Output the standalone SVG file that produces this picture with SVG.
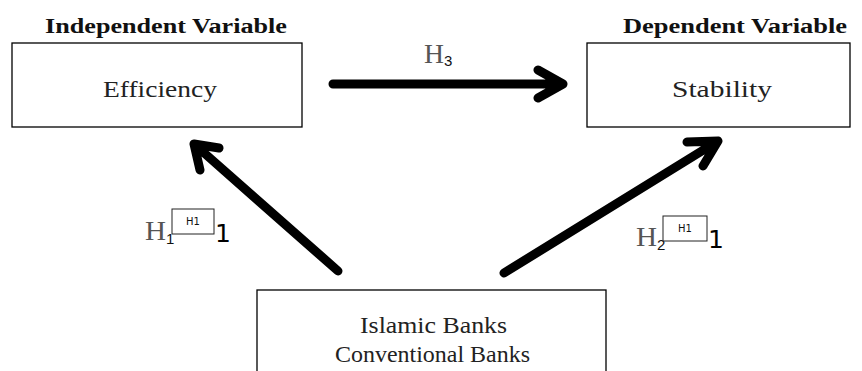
<svg xmlns="http://www.w3.org/2000/svg" width="862" height="371" viewBox="0 0 862 371">
<style>
.box{fill:#fff;stroke:#000;stroke-width:1.3}
.hd{font-family:"Liberation Serif",serif;font-weight:bold;font-size:20px;fill:#111}
.lb{font-family:"Liberation Serif",serif;font-size:23px;fill:#222}
.hh{font-family:"Liberation Serif",serif;font-size:27px;fill:#555}
.sub{font-family:"Liberation Sans",sans-serif;font-size:15px;fill:#111}
.one{font-family:"DejaVu Sans",sans-serif;font-size:25px;fill:#000}
.sb{fill:#fff;stroke:#222;stroke-width:1}
.st{font-family:"DejaVu Sans",sans-serif;font-size:10px;fill:#111}
.arr{fill:none;stroke:#000;stroke-width:9;stroke-linecap:round;stroke-linejoin:round}
</style>
<rect width="862" height="371" fill="#fff"/>
<text class="hd" x="45" y="33" textLength="242" lengthAdjust="spacingAndGlyphs">Independent Variable</text>
<text class="hd" x="623" y="33" textLength="224" lengthAdjust="spacingAndGlyphs">Dependent Variable</text>
<g id="efficiency">
<rect class="box" x="12" y="43" width="290" height="84"/>
<text class="lb" x="103" y="97" textLength="114" lengthAdjust="spacingAndGlyphs">Efficiency</text>
</g>
<g id="stability">
<rect class="box" x="587" y="43" width="263" height="84"/>
<text class="lb" x="672" y="97" textLength="100" lengthAdjust="spacingAndGlyphs">Stability</text>
</g>
<g id="banks">
<rect class="box" x="257" y="290" width="349" height="90"/>
<text class="lb" x="360" y="333" textLength="147" lengthAdjust="spacingAndGlyphs">Islamic Banks</text>
<text class="lb" x="335" y="362" textLength="195" lengthAdjust="spacingAndGlyphs">Conventional Banks</text>
</g>
<g id="connectors">
<path class="arr" d="M333,84 H563 M538,70 L563,84 L538,98"/>
<path class="arr" d="M338,271 L194,144 M219,148 L194,144 L200,170"/>
<path class="arr" d="M504,273 L718,141 M687,142 L718,141 L703,166"/>
</g>
<g id="label-h3">
<text class="hh" x="424" y="63" textLength="20" lengthAdjust="spacingAndGlyphs">H</text>
<text class="sub" x="444" y="66">3</text>
</g>
<g id="label-h1">
<text class="hh" x="145" y="240" textLength="21" lengthAdjust="spacingAndGlyphs">H</text>
<text class="sub" x="166" y="244">1</text>
<rect class="sb" x="172" y="209" width="42" height="25"/>
<text class="st" x="193" y="225" text-anchor="middle">H1</text>
<text class="one" x="215" y="242">1</text>
</g>
<g id="label-h2">
<text class="hh" x="636" y="246" textLength="21" lengthAdjust="spacingAndGlyphs">H</text>
<text class="sub" x="657" y="250">2</text>
<rect class="sb" x="663" y="216" width="44" height="25"/>
<text class="st" x="685" y="232" text-anchor="middle">H1</text>
<text class="one" x="708" y="248">1</text>
</g>
</svg>
